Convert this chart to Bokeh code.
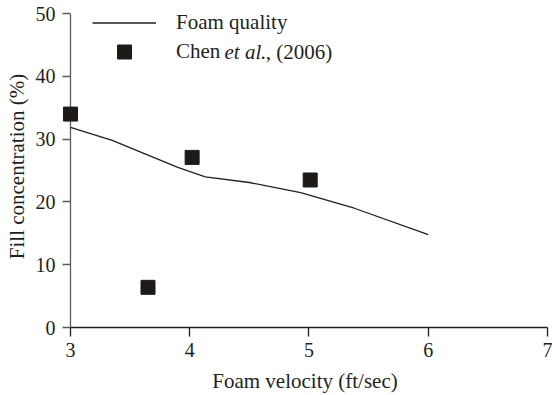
from bokeh.plotting import figure
from bokeh.models import Range1d, Legend, LegendItem, Label, FixedTicker
from bokeh.embed import file_html
from bokeh.resources import INLINE

# Data
line_x = [3.0, 3.35, 3.9, 4.13, 4.5, 4.93, 5.38, 6.0]
line_y = [31.9, 29.8, 25.5, 24.0, 23.1, 21.5, 19.0, 14.8]
pts_x = [3.0, 3.65, 4.02, 5.01]
pts_y = [34.0, 6.4, 27.1, 23.5]
x_ticks = [3, 4, 5, 6, 7]
y_ticks = [0, 10, 20, 30, 40, 50]

FONT = "Liberation Serif"
TXT = "#231f20"
YCOL = "#5a5a5a"
XCOL = "#231f20"

p = figure(width=552, height=395, output_backend="svg", toolbar_location=None,
           x_range=Range1d(2.933, 7), y_range=Range1d(0, 51.3),
           min_border_left=62, min_border_right=5, min_border_top=5, min_border_bottom=68)
p.outline_line_color = None
p.xgrid.visible = False
p.ygrid.visible = False
p.background_fill_color = "white"

# y axis line from 0 to 50 at x = 3
p.segment(x0=[x_ticks[0]], y0=[y_ticks[0]], x1=[x_ticks[0]], y1=[y_ticks[-1]],
          line_color=YCOL, line_width=1.3)

ln = p.line(line_x, line_y, line_color="#231f20", line_width=1.3)
sq = p.scatter(pts_x, pts_y, marker="square", size=14, fill_color="#1e1a18", line_color="#1e1a18")

for ax, ticks, col in ((p.xaxis[0], x_ticks, XCOL), (p.yaxis[0], y_ticks, YCOL)):
    ax.ticker = FixedTicker(ticks=ticks)
    ax.minor_tick_line_color = None
    ax.axis_line_color = col
    ax.major_tick_line_color = col
    ax.axis_line_width = 1.3
    ax.major_tick_line_width = 1.3
    ax.major_label_text_font = FONT
    ax.major_label_text_font_size = "20px"
    ax.major_label_text_color = TXT
    ax.axis_label_text_font = FONT
    ax.axis_label_text_font_size = "21px"
    ax.axis_label_text_font_style = "normal"
    ax.axis_label_text_color = TXT

# x axis: ticks outward, starting at x = 3
p.xaxis.bounds = (3, 7)
p.xaxis.major_tick_in = 0
p.xaxis.major_tick_out = 9
p.xaxis.major_label_standoff = 6
p.xaxis.axis_label_standoff = 9
p.xaxis.axis_label = "Foam velocity (ft/sec)"

# y axis: ticks reach from the frame edge to the line at x = 3
p.yaxis.axis_line_color = None
p.yaxis.major_tick_in = 8
p.yaxis.major_tick_out = 0
p.yaxis.major_label_standoff = 7
p.yaxis.axis_label_standoff = 4
p.yaxis.axis_label = "Fill concentration (%)"

def mk_legend(item, loc, gh, lh):
    lg = Legend(items=[item], location=loc, glyph_width=64, glyph_height=gh,
                label_height=lh, label_standoff=20, padding=0, margin=0, spacing=0,
                border_line_color=None, background_fill_alpha=0,
                label_text_font=FONT, label_text_font_size="21px", label_text_color=TXT)
    p.add_layout(lg)

mk_legend(LegendItem(label="Foam quality", renderers=[ln]), (30, 287.5), 35, 35)
mk_legend(LegendItem(label="Chen", renderers=[sq]), (30, 258.5), 35, 35)

p.add_layout(Label(x=224 - 62, y=327 - 51, x_units="screen", y_units="screen",
                   text="et al", text_font=FONT, text_font_size="21px", text_font_style="italic",
                   text_color=TXT, text_baseline="middle"))
p.add_layout(Label(x=260 - 62, y=327 - 51, x_units="screen", y_units="screen",
                   text="., (2006)", text_font=FONT, text_font_size="21px",
                   text_color=TXT, text_baseline="middle"))

open("out.html", "w").write(file_html(p, INLINE))
